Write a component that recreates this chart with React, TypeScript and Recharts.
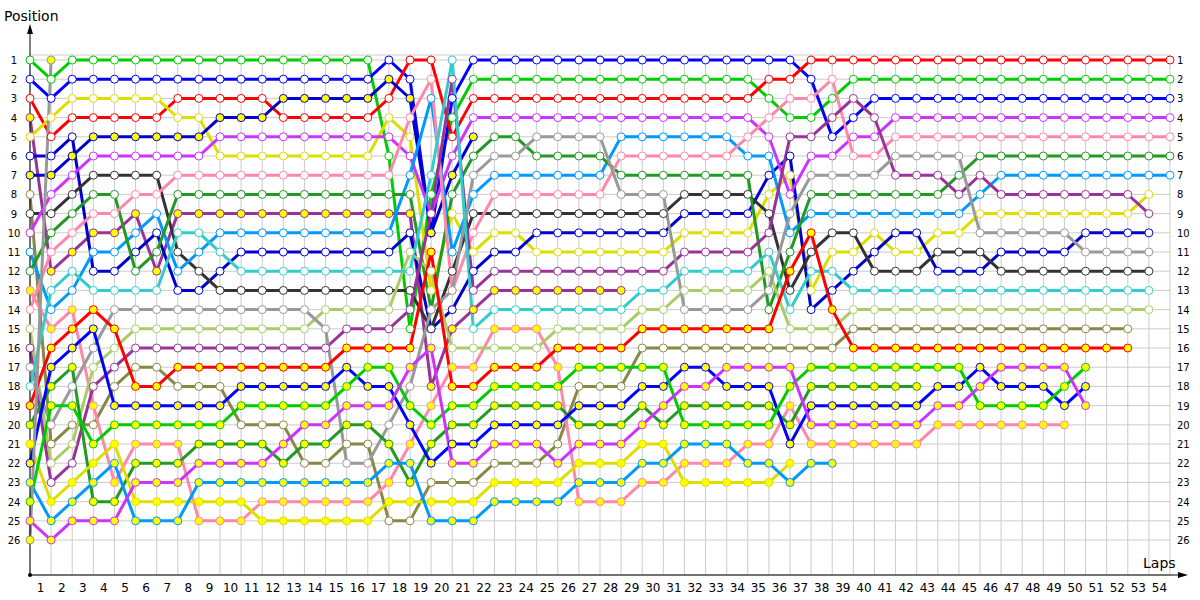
import React from 'react';
import { LineChart, Line, XAxis, YAxis, CartesianGrid } from 'recharts';

const n = null;

const laps = [0,1,2,3,4,5,6,7,8,9,10,11,12,13,14,15,16,17,18,19,20,21,22,23,24,25,26,27,28,29,30,31,32,33,34,35,36,37,38,39,40,41,42,43,44,45,46,47,48,49,50,51,52,53,54];
const positionTicks = [1,2,3,4,5,6,7,8,9,10,11,12,13,14,15,16,17,18,19,20,21,22,23,24,25,26];

// positions per lap (lap 0 = grid)
const greenW = [1,2,1,1,1,1,1,1,1,1,1,1,1,1,1,1,1,6,15,8,4,2,2,2,2,2,2,2,2,2,2,2,2,2,2,3,4,4,3,2,2,2,2,2,2,2,2,2,2,2,2,2,2,2,2];
const blueW = [2,3,2,2,2,2,2,2,2,2,2,2,2,2,2,2,2,1,2,10,3,1,1,1,1,1,1,1,1,1,1,1,1,1,1,1,1,2,5,4,3,3,3,3,3,3,3,3,3,3,3,3,3,3,3];
const redW = [3,5,4,4,4,4,4,3,3,3,3,3,4,4,4,4,4,3,1,1,5,3,3,3,3,3,3,3,3,3,3,3,3,3,3,2,2,1,1,1,1,1,1,1,1,1,1,1,1,1,1,1,1,1,1];
const purpleY = [4,12,11,10,10,9,12,9,9,9,9,9,9,9,9,9,9,9,9,18,15,14,13,13,13,13,13,13,13,n,n,n,n,n,n,n,n,n,n,n,n,n,n,n,n,n,n,n,n,n,n,n,n,n,n];
const yellowW = [5,4,3,3,3,3,3,4,4,6,6,6,6,6,6,6,6,4,5,13,9,11,10,10,11,11,11,11,11,11,11,10,10,10,10,8,7,13,11,11,10,11,11,10,10,9,9,9,9,9,9,9,9,8,n];
const navyW = [6,6,5,12,12,11,10,13,13,12,11,11,11,11,11,11,11,11,10,15,14,12,11,11,10,10,10,10,10,10,10,9,9,9,9,7,6,14,13,12,11,10,10,12,12,12,11,11,11,11,10,10,10,10,n];
const navyY = [7,7,6,5,5,5,5,5,5,4,4,4,3,3,3,3,3,2,3,10,7,5,n,n,n,n,n,n,n,n,n,n,n,n,n,n,n,n,n,n,n,n,n,n,n,n,n,n,n,n,n,n,n,n,n];
const oliveW = [8,21,20,20,18,17,17,18,18,18,20,20,20,22,22,21,21,25,25,23,23,23,22,22,22,21,18,18,18,16,16,16,16,16,16,16,16,16,16,15,15,15,15,15,15,15,15,15,15,15,15,15,15,n,n];
const darkGrayW = [9,9,8,7,7,7,7,11,12,13,13,13,13,13,13,13,13,13,13,15,12,9,9,9,9,9,9,9,9,9,9,8,8,8,8,9,13,11,10,10,12,12,12,11,11,11,12,12,12,12,12,12,12,12,n];
const violetW = [10,8,7,6,6,6,6,6,6,5,5,5,5,5,5,5,5,5,6,9,6,4,4,4,4,4,4,4,4,4,4,4,4,4,4,5,8,6,6,5,5,4,4,4,4,4,4,4,4,4,4,4,4,4,4];
const skyW = [11,14,13,11,11,10,9,12,11,10,10,10,10,10,10,10,10,10,7,3,11,8,7,7,7,7,7,7,5,5,5,5,5,5,6,6,10,9,9,9,9,9,9,9,9,8,7,7,7,7,7,7,7,7,7];
const forestW = [12,10,9,8,8,12,11,8,8,8,8,8,8,8,8,8,8,8,8,14,8,6,5,5,6,6,6,6,7,7,7,7,7,7,7,14,11,8,8,8,8,8,8,8,7,6,6,6,6,6,6,6,6,6,6];
const pinkY = [13,15,14,19,23,21,21,21,25,25,25,24,24,24,24,24,24,23,21,19,17,17,15,15,15,17,24,24,24,23,23,22,22,22,21,21,19,21,21,21,21,21,21,20,20,20,20,20,20,20,n,n,n,n,n];
const pinkW = [14,11,10,9,9,8,8,7,7,7,7,7,7,7,7,7,7,7,4,2,13,10,8,8,8,8,8,8,6,6,6,6,6,6,5,4,3,3,2,6,6,5,5,5,5,5,5,5,5,5,5,5,5,5,5];
const limeW = [15,22,21,17,16,15,15,15,15,15,15,15,15,15,14,14,14,14,11,12,16,16,16,16,16,15,15,15,15,14,14,13,13,13,13,12,15,15,15,14,14,14,14,14,14,14,14,14,14,14,14,14,14,14,n];
const purpleW = [16,23,22,18,17,16,16,16,16,16,16,16,16,16,16,15,15,15,14,9,2,13,12,12,12,12,12,12,12,12,12,11,11,11,11,10,5,5,4,3,4,7,7,7,8,7,8,8,8,8,8,8,8,9,n];
const grayW = [17,20,18,16,14,14,14,14,14,14,14,14,14,14,15,22,22,20,18,14,13,7,6,6,5,5,5,5,8,8,8,14,14,14,14,13,9,7,7,7,7,6,6,6,6,10,10,10,10,10,11,11,11,11,n];
const cyanW = [18,13,12,13,13,13,13,10,10,11,12,12,12,12,12,12,12,12,12,7,1,15,14,14,14,14,14,14,14,13,13,12,12,12,12,11,14,12,12,13,13,13,13,13,13,13,13,13,13,13,13,13,13,13,n];
const redY = [19,16,15,14,15,18,18,17,17,17,17,17,17,17,17,16,16,16,16,11,18,18,17,17,17,16,16,16,16,15,15,15,15,15,15,15,12,10,14,16,16,16,16,16,16,16,16,16,16,16,16,16,16,n,n];
const forestY = [20,18,17,24,24,22,22,22,21,21,21,21,22,21,21,20,20,21,23,21,20,20,19,19,19,19,20,20,20,19,20,19,19,19,19,19,20,18,18,18,18,18,18,n,n,n,n,n,n,n,n,n,n,n,n];
const yellowY = [21,24,23,22,21,24,24,24,24,24,24,25,25,25,25,25,25,24,24,24,24,24,23,23,23,23,22,22,22,21,21,23,23,23,23,23,22,n,n,n,n,n,n,n,n,n,n,n,n,n,n,n,n,n,n];
const blueY = [22,17,16,15,19,19,19,19,19,19,18,18,18,18,18,17,18,18,20,22,21,21,20,20,20,20,19,19,19,18,18,17,17,18,18,18,21,19,19,19,19,19,19,18,18,17,18,18,18,19,18,n,n,n,n];
const skyY = [23,25,24,23,22,25,25,25,23,23,23,23,23,23,23,23,23,22,22,25,25,25,24,24,24,24,23,23,23,22,22,21,21,21,22,22,23,22,22,n,n,n,n,n,n,n,n,n,n,n,n,n,n,n,n];
const greenY = [24,19,19,21,20,20,20,20,20,20,19,19,19,19,19,18,17,17,19,20,19,19,18,18,18,18,17,17,17,17,17,20,20,20,20,20,18,17,17,17,17,17,17,17,17,19,19,19,19,18,17,n,n,n,n];
const violetY = [25,26,25,25,25,23,23,23,22,22,22,22,21,20,20,19,19,19,17,16,22,22,21,21,21,22,21,21,21,20,19,18,18,17,17,17,17,20,20,20,20,20,20,19,19,18,17,17,17,17,19,n,n,n,n];
const grayY = [26,1,n,n,n,n,n,n,n,n,n,n,n,n,n,n,n,n,n,n,n,n,n,n,n,n,n,n,n,n,n,n,n,n,n,n,n,n,n,n,n,n,n,n,n,n,n,n,n,n,n,n,n,n,n];

const WHITE = '#ffffff';
const YEL = '#ffff00';

// drawn in starting-grid order (later ones on top)
const drivers = [
  { key: 'greenW', color: '#00cc00', fill: WHITE, values: greenW },
  { key: 'blueW', color: '#0000ff', fill: WHITE, values: blueW },
  { key: 'redW', color: '#ff0000', fill: WHITE, values: redW },
  { key: 'purpleY', color: '#993399', fill: YEL, values: purpleY },
  { key: 'yellowW', color: '#dddd00', fill: WHITE, values: yellowW },
  { key: 'navyW', color: '#0000cc', fill: WHITE, values: navyW },
  { key: 'navyY', color: '#0000cc', fill: YEL, values: navyY },
  { key: 'oliveW', color: '#888844', fill: WHITE, values: oliveW },
  { key: 'darkGrayW', color: '#333333', fill: WHITE, values: darkGrayW },
  { key: 'violetW', color: '#cc33ff', fill: WHITE, values: violetW },
  { key: 'skyW', color: '#0099ff', fill: WHITE, values: skyW },
  { key: 'forestW', color: '#229922', fill: WHITE, values: forestW },
  { key: 'pinkY', color: '#ff88aa', fill: YEL, values: pinkY },
  { key: 'pinkW', color: '#ff88aa', fill: WHITE, values: pinkW },
  { key: 'limeW', color: '#aacc66', fill: WHITE, values: limeW },
  { key: 'purpleW', color: '#993399', fill: WHITE, values: purpleW },
  { key: 'grayW', color: '#999999', fill: WHITE, values: grayW },
  { key: 'cyanW', color: '#33cccc', fill: WHITE, values: cyanW },
  { key: 'redY', color: '#ff0000', fill: YEL, values: redY },
  { key: 'forestY', color: '#229922', fill: YEL, values: forestY },
  { key: 'yellowY', color: '#dddd00', fill: YEL, values: yellowY },
  { key: 'blueY', color: '#0000ff', fill: YEL, values: blueY },
  { key: 'skyY', color: '#0099ff', fill: YEL, values: skyY },
  { key: 'greenY', color: '#00cc00', fill: YEL, values: greenY },
  { key: 'violetY', color: '#cc33ff', fill: YEL, values: violetY },
  { key: 'grayY', color: '#999999', fill: YEL, values: grayY },
];

const data = laps.map((lap, i) => {
  const row: Record<string, number | null> = { lap };
  drivers.forEach((d) => { row[d.key] = d.values[i]; });
  return row;
});

const FONT = '"DejaVu Sans", Verdana, sans-serif';

const XTick = (p: any) => {
  if (p.payload.value === 0) return <g />;
  return (
    <text x={p.x - 10.5} y={p.y} dy={9} textAnchor="middle" fontSize={12} fontFamily={FONT} fill="#000">
      {p.payload.value}
    </text>
  );
};

const LeftTick = (p: any) => (
  <text x={p.x} y={p.y} dy={4} textAnchor="middle" fontSize={10} fontFamily={FONT} fill="#000">
    {p.payload.value}
  </text>
);

const RightTick = (p: any) => (
  <text x={p.x} y={p.y} dy={4} textAnchor="start" fontSize={10} fontFamily={FONT} fill="#000">
    {p.payload.value}
  </text>
);

export default function App() {
  return (
    <div style={{ position: 'absolute', left: 0, top: 0, width: 1200, height: 600, background: '#fff' }}>
      <LineChart width={1200} height={600} data={data} margin={{ top: 55, right: 0, bottom: 0, left: 0 }}>
        <CartesianGrid yAxisId="l" stroke="#cccccc" strokeWidth={1} />
        <XAxis
          dataKey="lap"
          type="number"
          domain={[0, 54]}
          ticks={laps}
          interval={0}
          height={25}
          tickLine={false}
          tickSize={0}
          tickMargin={8}
          axisLine={{ stroke: '#000', strokeWidth: 1 }}
          tick={<XTick />}
        />
        <YAxis
          yAxisId="l"
          type="number"
          reversed
          domain={[0.74, 27.82]}
          ticks={positionTicks}
          interval={0}
          width={30}
          tickLine={false}
          tickSize={0}
          tickMargin={16}
          axisLine={{ stroke: '#000', strokeWidth: 1 }}
          tick={<LeftTick />}
          allowDataOverflow
        />
        <YAxis
          yAxisId="r"
          orientation="right"
          type="number"
          reversed
          domain={[0.74, 27.82]}
          ticks={positionTicks}
          interval={0}
          width={30}
          tickLine={false}
          tickSize={0}
          tickMargin={7}
          axisLine={false}
          tick={<RightTick />}
          allowDataOverflow
        />
        {drivers.map((d) => (
          <Line
            key={d.key}
            yAxisId="l"
            type="linear"
            dataKey={d.key}
            stroke={d.color}
            strokeWidth={3}
            dot={{ r: 4, fill: d.fill, stroke: d.color, strokeWidth: 1 }}
            activeDot={false}
            connectNulls={false}
            isAnimationActive={false}
          />
        ))}
      </LineChart>
      <svg width={1200} height={600} style={{ position: 'absolute', left: 0, top: 0, pointerEvents: 'none' }}>
        <line x1={30} y1={55} x2={30} y2={30} stroke="#000" strokeWidth={1} />
        <polygon points="30,24 27,34 33,34" fill="#000" />
        <line x1={1170} y1={575} x2={1180} y2={575} stroke="#000" strokeWidth={1} />
        <polygon points="1188,575 1178,572 1178,578" fill="#000" />
        <circle cx={30} cy={575} r={2} fill="#000" />
        <text x={4} y={21} fontSize={14} fontFamily={FONT} fill="#000">Position</text>
        <text x={1143} y={568} fontSize={14} fontFamily={FONT} fill="#000">Laps</text>
      </svg>
    </div>
  );
}
